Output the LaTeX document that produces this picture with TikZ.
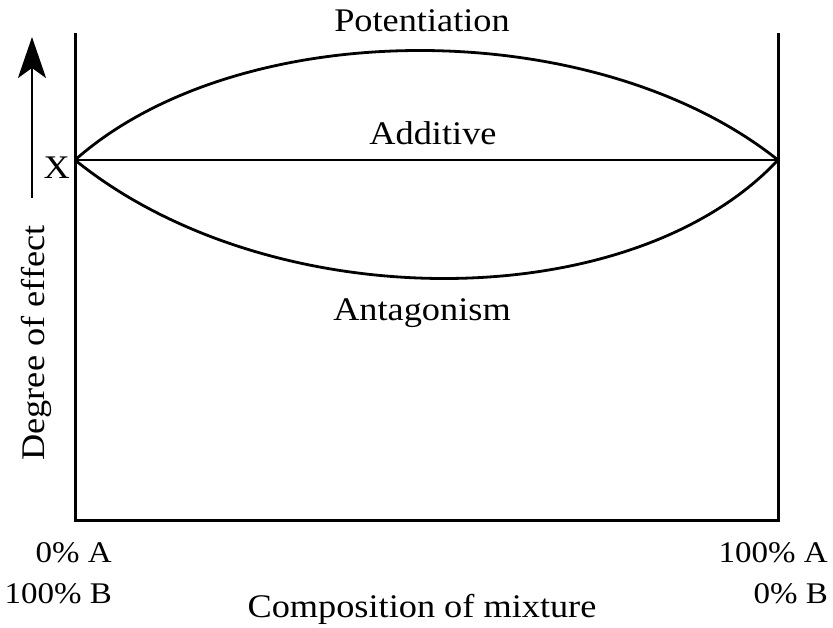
\documentclass[tikz,border=0pt]{standalone}
\usepackage{fontspec}
\setmainfont[FakeStretch=1.1]{Liberation Serif}
\usetikzlibrary{arrows.meta}
\begin{document}
\begin{tikzpicture}[x=1pt,y=-1pt,
  frame/.style={line width=3pt, line join=miter},
  curve/.style={line width=2.8pt},
  lbl/.style={font=\fontsize{33}{38}\selectfont, inner sep=0pt, anchor=base},
  corner/.style={lbl, font=\fontsize{30}{36}\selectfont, anchor=base east},
]
\useasboundingbox (0,0) rectangle (833,627);
% frame of the plot
\coordinate (tl) at (75,33);
\coordinate (bl) at (75,520);
\coordinate (br) at (778,520);
\coordinate (tr) at (778,33);
\draw[frame] (tl) -- (bl) -- (br) -- (tr);
% end points shared by the three curves
\coordinate (xl) at (75,160);
\coordinate (xr) at (778,160);
\draw[curve] (xl) .. controls (240,14) and (595,14) .. (xr);
\draw[curve] (xl) -- (xr);
\draw[curve] (xl) .. controls (270,318) and (630,318) .. (xr);
% axis arrow
\coordinate (ab) at (32,198);
\coordinate (at) at (32,37);
\draw[line width=2.8pt, -{Stealth[length=41pt,width=28pt,inset=10pt]}] (ab) -- (at);
% labels
\node[lbl] (pot) at (422,31) {Potentiation};
\node[lbl] (add) at (433,144) {Additive};
\node[lbl] (ant) at (422,320) {Antagonism};
\node[lbl, anchor=base east] (x) at (70,178) {X};
\node[lbl, rotate=90, anchor=base] (deg) at (44,343) {Degree of effect};
\node[corner] (a0) at (112,562) {0\% A};
\node[corner] (b100) at (112,603) {100\% B};
\node[corner] (a100) at (828,562) {100\% A};
\node[corner] (b0) at (828,603) {0\% B};
\node[lbl] (comp) at (422,617) {Composition of mixture};
\end{tikzpicture}
\end{document}
